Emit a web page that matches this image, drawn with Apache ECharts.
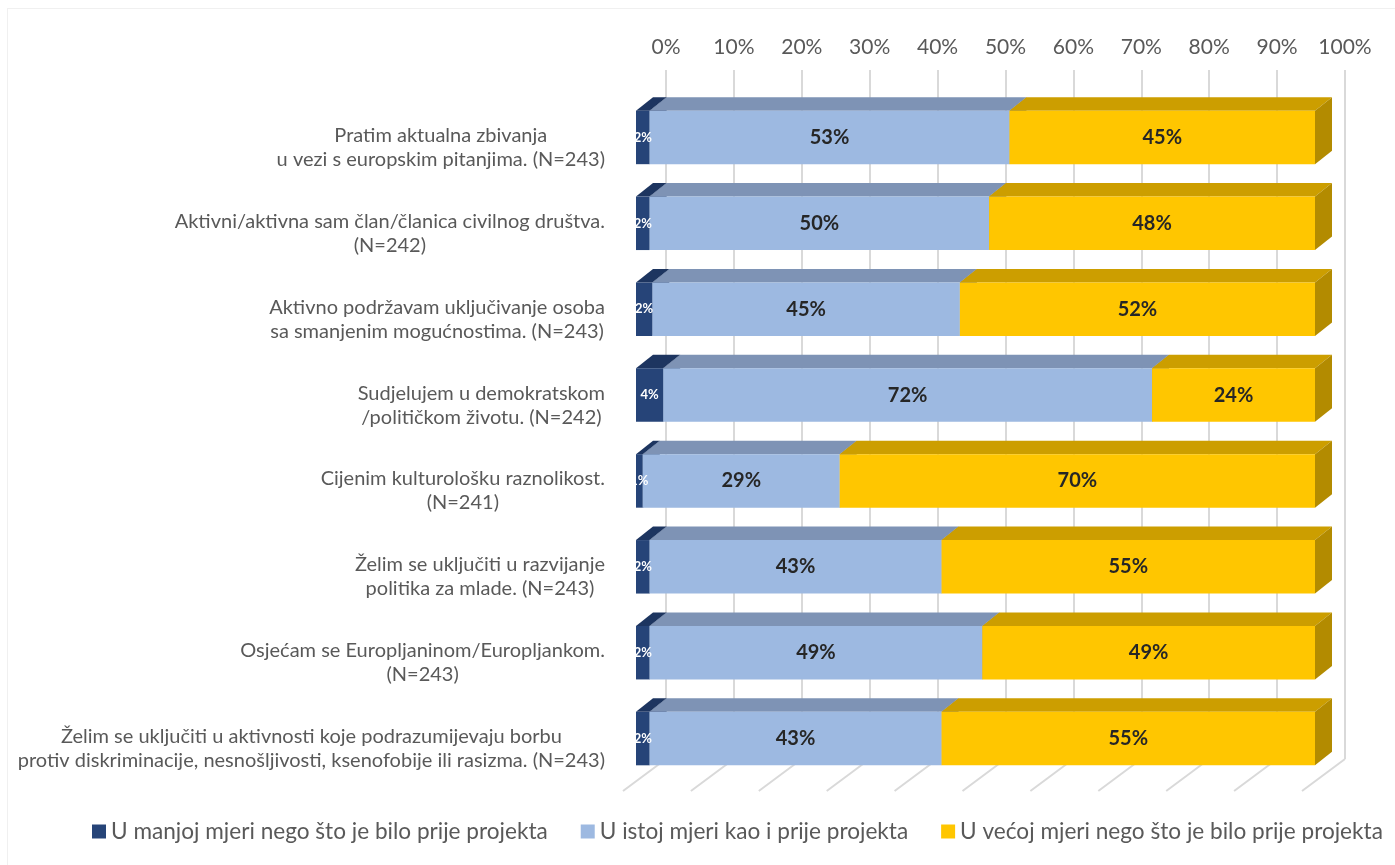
<!DOCTYPE html>
<html>
<head>
<meta charset="utf-8">
<script src="https://cdn.jsdelivr.net/npm/echarts@6/dist/echarts.min.js"></script>
<style>
html,body{margin:0;padding:0;background:#fff;}
#wrap{position:relative;width:1395px;height:865px;overflow:hidden;}
#frame{position:absolute;left:7px;top:8px;width:1400px;height:900px;border:1px solid #f0f0f0;box-sizing:border-box;}
#chart{position:absolute;left:0;top:0;width:1395px;height:865px;}
</style>
</head>
<body>
<div id="wrap"><div id="frame"></div><div id="chart"></div></div>
<script>
var categories = [
  "Pratim aktualna zbivanja\nu vezi s europskim pitanjima. (N=243)",
  "Aktivni/aktivna sam član/članica civilnog društva.\n(N=242)",
  "Aktivno podržavam uključivanje osoba\nsa smanjenim mogućnostima. (N=243)",
  "Sudjelujem u demokratskom\n/političkom životu. (N=242)",
  "Cijenim kulturološku raznolikost.\n(N=241)",
  "Želim se uključiti u razvijanje\npolitika za mlade. (N=243)",
  "Osjećam se Europljaninom/Europljankom.\n(N=243)",
  "Želim se uključiti u aktivnosti koje podrazumijevaju borbu\nprotiv diskriminacije, nesnošljivosti, ksenofobije ili rasizma. (N=243)"
];
var seriesNames = [
  "U manjoj mjeri nego što je bilo prije projekta",
  "U istoj mjeri kao i prije projekta",
  "U većoj mjeri nego što je bilo prije projekta"
];
var lessValues = [2, 2, 2.4, 4, 1, 2, 2, 2];
var sameValues = [53, 50, 45.3, 72, 29, 43, 49, 43];
var moreValues = [45, 48, 52.3, 24, 70, 55, 49, 55];
var xTicks = [0, 10, 20, 30, 40, 50, 60, 70, 80, 90, 100];

var FONT = 'Lato, "Noto Sans", sans-serif';
var DX = 17, DY = 13.5;

var allValues = [lessValues, sameValues, moreValues];
var styles = [
  {front:'#264478', top:'#1d3560', side:'#1a2f55', label:'#ffffff', size:13},
  {front:'#9db9e1', top:'#7e93b5', side:'#6e81a0', label:'#262626', size:20},
  {front:'#ffc600', top:'#cc9e00', side:'#b38b00', label:'#262626', size:20}
];

function buildData(k){
  var out = [];
  for (var i = 0; i < categories.length; i++){
    var start = 0;
    for (var j = 0; j < k; j++) start += allValues[j][i];
    out.push([i, start, start + allValues[k][i], allValues[k][i]]);
  }
  return out;
}

function makeRender(st){
  return function(params, api){
    var cat = api.value(0), s = api.value(1), e = api.value(2), v = api.value(3);
    var p0 = api.coord([s, cat]), p1 = api.coord([e, cat]);
    var band = api.size([0, 1])[1];
    var h = band * 0.623;
    var x0 = p0[0], x1 = p1[0], yT = p0[1] - h/2, yB = p0[1] + h/2;
    return {
      type:'group',
      children:[
        {type:'polygon', shape:{points:[[x0,yT],[x0+DX,yT-DY],[x1+DX,yT-DY],[x1,yT]]}, style:{fill:st.top}},
        {type:'polygon', shape:{points:[[x1,yT],[x1+DX,yT-DY],[x1+DX,yB-DY],[x1,yB]]}, style:{fill:st.side}},
        {type:'rect', shape:{x:x0, y:yT, width:x1-x0, height:h}, style:{fill:st.front}},
        {type:'text', z2:10, style:{text:Math.round(v)+'%', x:(x0+x1)/2, y:(yT+yB)/2, align:'center', verticalAlign:'middle',
          fill:st.label, font:'bold '+st.size+'px '+FONT}}
      ]
    };
  };
}

var series = [];
for (var k = 0; k < 3; k++){
  series.push({
    name: seriesNames[k],
    type: 'custom',
    xAxisIndex: 0, yAxisIndex: 0,
    z: 5,
    itemStyle: {color: styles[k].front},
    renderItem: makeRender(styles[k]),
    encode: {x:[1,2], y:0},
    data: buildData(k)
  });
}
series.push({
  type: 'custom',
  xAxisIndex: 1, yAxisIndex: 1,
  z: 1,
  silent: true,
  renderItem: function(params, api){
    var p = api.coord([api.value(0), 0]);
    return {type:'line', shape:{x1:p[0], y1:p[1], x2:p[0]-43, y2:p[1]+32}, style:{stroke:'#d9d9d9', lineWidth:2}};
  },
  encode: {x:0},
  data: xTicks.map(function(t){ return [t]; })
});

var chart = echarts.init(document.getElementById('chart'), null, {renderer:'canvas'});
chart.setOption({
  backgroundColor: 'transparent',
  animation: false,
  grid: [
    {left:636, right:80, top:94.5, height:687},
    {left:666, right:50, top:70, bottom:106}
  ],
  xAxis: [
    {type:'value', gridIndex:0, min:0, max:100, show:false},
    {type:'value', gridIndex:1, min:0, max:100, interval:10, position:'top',
      axisLine:{show:false}, axisTick:{show:false},
      axisLabel:{formatter:'{value}%', color:'#595959', fontFamily:FONT, fontSize:21, margin:12},
      splitLine:{show:true, lineStyle:{color:'#d9d9d9', width:2}}}
  ],
  yAxis: [
    {type:'category', gridIndex:0, inverse:true, data:categories,
      axisLine:{show:false}, axisTick:{show:false}, splitLine:{show:false},
      axisLabel:{
        margin:31, align:'right', padding:[20,0,0,0],
        formatter:function(val){ return val.split('\n').map(function(l){ return '{c|' + l + '}'; }).join('\n'); },
        rich:{c:{align:'center', color:'#595959', fontFamily:FONT, fontSize:20, lineHeight:24}}
      }},
    {type:'value', gridIndex:1, min:0, max:1, show:false}
  ],
  legend: {
    data: seriesNames,
    left: 92, top: 820, padding: 0,
    icon: 'rect', itemWidth: 14, itemHeight: 14, itemGap: 33,
    textStyle: {color:'#595959', fontFamily:FONT, fontSize:22.6},
    selectedMode: false
  },
  series: series
});
</script>
</body>
</html>
